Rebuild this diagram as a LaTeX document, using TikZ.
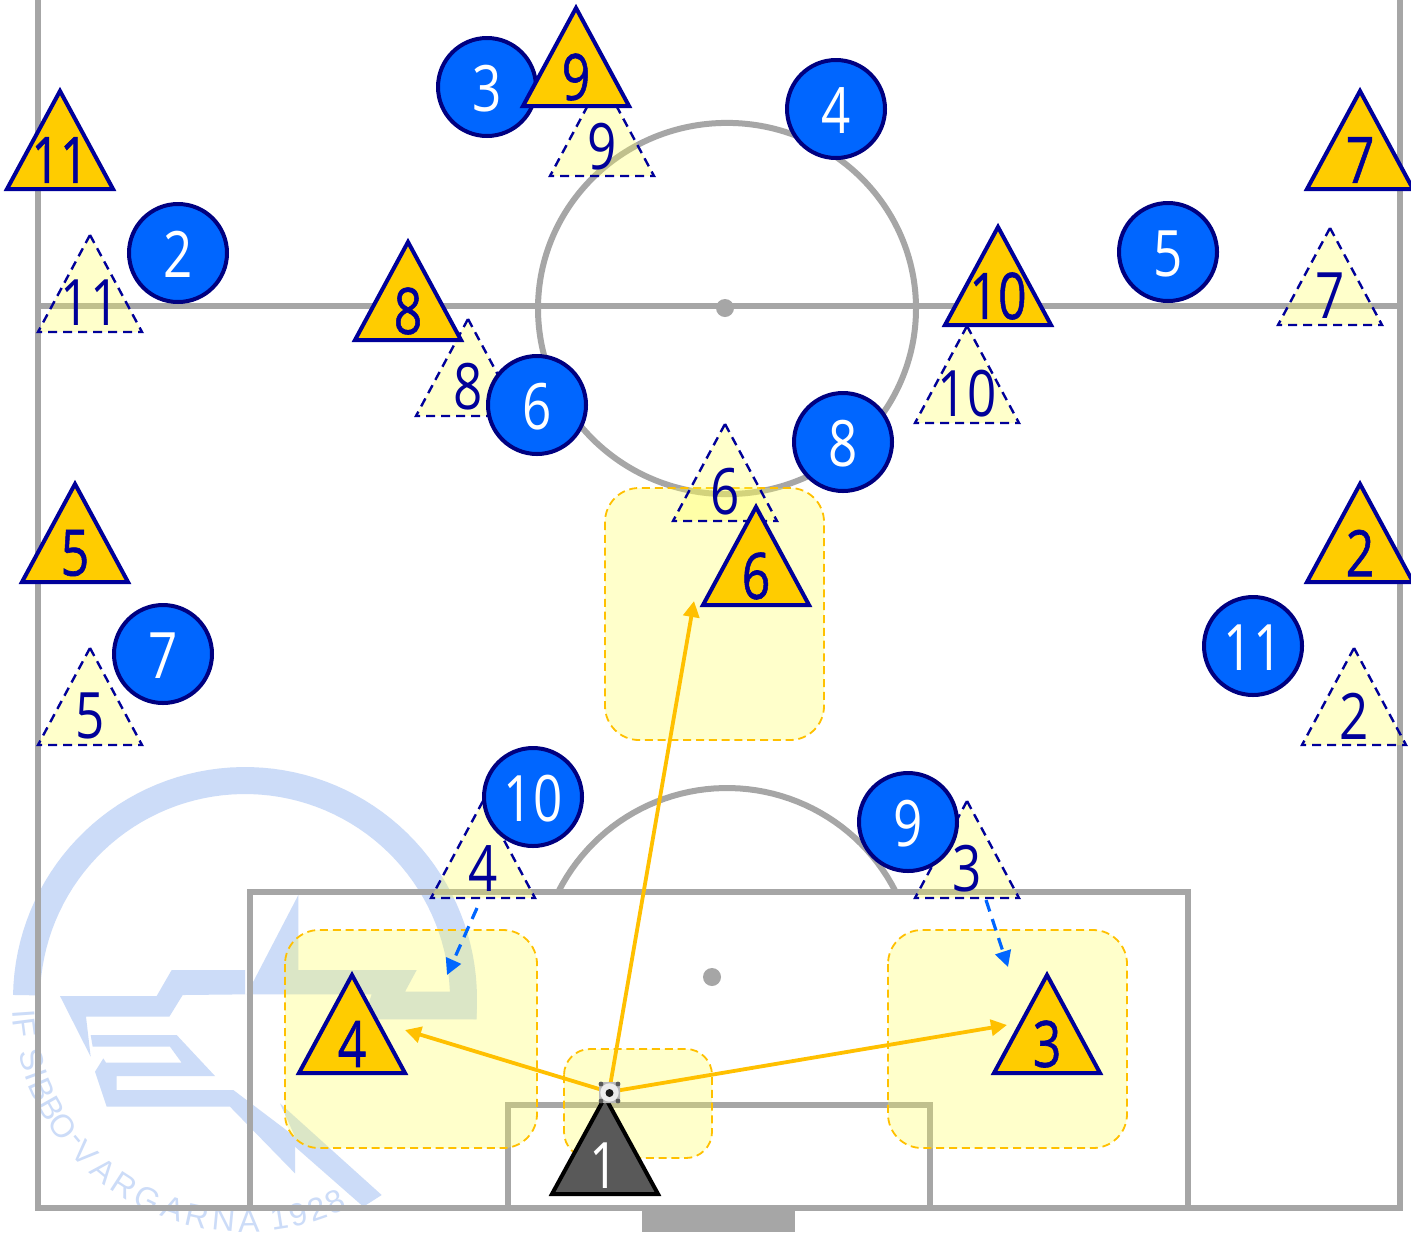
\documentclass[tikz,border=0pt]{standalone}
\usepackage{fontspec}
\setmainfont{Open Sans}
\newfontfamily\boldnum[FakeBold=1]{Open Sans}
\newfontfamily\wmfont{Liberation Sans}
\usetikzlibrary{arrows.meta}
\definecolor{pitch}{HTML}{A6A6A6}
\definecolor{navyline}{HTML}{000099}
\definecolor{gold}{HTML}{FFCC00}
\definecolor{amber}{HTML}{FFC000}
\definecolor{pale}{HTML}{FFFF55}
\definecolor{blue1}{HTML}{0066FF}
\definecolor{ringc}{HTML}{000080}
\definecolor{wm}{HTML}{CCDCF8}
\definecolor{keeper}{HTML}{595959}
\newcommand{\numtxt}[1]{\fontsize{32}{32}\selectfont\scalebox{.8}[1]{#1}}
\newcommand{\numbold}[1]{\fontsize{32}{32}\boldnum\scalebox{.78}[1]{#1}}
\tikzset{
  pitchline/.style={draw=pitch,line width=3pt},
  zone/.style={draw=amber,fill=pale,fill opacity=.3,line width=.9pt,dash pattern=on 4pt off 2.4pt,rounded corners=17pt},
  numlabel/.style={inner sep=0pt,anchor=center},
  ghosttri/.style={draw=navyline,fill=pale,fill opacity=.3,line width=1.2pt,dash pattern=on 4.5pt off 3pt,line join=miter},
  solidtri/.style={draw=navyline,fill=gold,line width=2pt,line join=miter},
  keepertri/.style={draw=black,fill=keeper,line width=2pt,line join=miter},
  player/.style={circle,draw=ringc,fill=blue1,line width=2pt,minimum size=49pt,inner sep=0pt,text=white},
  passarrow/.style={draw=amber,line width=1.9pt,-{Triangle[length=8pt,width=8pt]}},
  runarrow/.style={draw=blue1,line width=1.6pt,dash pattern=on 6pt off 4pt,-{Triangle[length=8pt,width=8pt]}},
  wmletter/.style={inner sep=0pt,text=wm,font=\fontsize{16}{16}\wmfont},
}
% name, apex x, apex y, label
\newcommand{\ghost}[4]{\path[ghosttri] (#2,#3) -- (#2+52,#3+97) -- (#2-52,#3+97) -- cycle;
  \node[numlabel,text=navyline] (#1) at (#2,#3+68) {\numtxt{#4}};}
\newcommand{\solid}[4]{\path[solidtri] (#2,#3) -- (#2+53,#3+98) -- (#2-53,#3+98) -- cycle;
  \node[numlabel,text=navyline] (#1) at (#2,#3+69) {\numbold{#4}};}
\newcommand{\plyr}[4]{\node[player] (#1) at (#2,#3) {};
  \node[numlabel,text=white] at (#2,#3+1.5) {\numtxt{#4}};}
\begin{document}
\begin{tikzpicture}[x=.5pt,y=-.5pt]
\useasboundingbox (0,0) rectangle (1411,1232);
\fill[white] (0,0) rectangle (1411,1232);
% watermark
\fill[wm] plot[domain=181:365,samples=70] ({245+232*cos(\x)},{999+232*sin(\x)})
  -- plot[domain=365:181,samples=70] ({245+205*cos(\x)},{999+205*sin(\x)}) -- cycle;
\begin{scope}[shift={(0,760)},x=.16667pt,y=-.16667pt]
\fill[wm] (895,405) -- (895,630) -- (1250,630) -- (1215,695) -- (1430,695) -- (1430,778) -- (1090,778) -- (1115,703) -- (740,703) -- cycle;
\fill[wm] (180,708) -- (470,708) -- (515,630) -- (735,630) -- (735,703) -- (548,705) -- (508,770) -- (258,770) -- (272,890) -- cycle;
\fill[wm] (272,825) -- (530,825) -- (645,948) -- (350,948) -- (350,990) -- (700,990) -- (885,1130) -- (885,1240) -- (690,1040) -- (320,1040) -- (285,935) -- (310,895) -- (318,908) -- (545,908) -- (510,860) -- (278,860) -- cycle;
\fill[wm] (840,1030) -- (1145,1305) -- (1090,1340) -- (885,1160) -- (885,1130) -- cycle;
\end{scope}
\foreach \c/\a in {I/176,F/172.5,S/164,I/160,B/156,B/150.5,O/145,-/140,V/136,A/129.5,R/123,G/116,A/109,R/102.5,N/95.5,A/89,1/81,9/76,2/71,8/66}
  \node[wmletter,rotate={90-\a}] at ({245+222*cos(\a)},{999+222*sin(\a)}) {\c};
% pitch
\draw[pitchline] (38,0) -- (38,1208) -- (1400,1208) -- (1400,0);
\draw[pitchline] (38,306) -- (1400,306);
\draw[pitchline] (727,308.5) ellipse[x radius=94.5pt,y radius=92.8pt];
\fill[pitch] (725,308) circle[radius=4.5pt];
\draw[pitchline] (250,1208) -- (250,892) -- (1188,892) -- (1188,1208);
\draw[pitchline] (508,1208) -- (508,1105) -- (930,1105) -- (930,1208);
\fill[pitch] (712,977) circle[radius=4.5pt];
\draw[pitchline] plot[domain=207:333,samples=50] ({727+189*cos(\x)},{977+189*sin(\x)});
\fill[pitch] (642,1209) rectangle (795,1232);
% zones
\path[zone] (605,488) rectangle (824,740);
\path[zone] (285,930) rectangle (537,1148);
\path[zone] (888,930) rectangle (1127,1148);
\path[zone,rounded corners=13pt] (564,1049) rectangle (712,1158);
% ghosts
\ghost{g9}{602}{79}{9}
\ghost{g11}{90}{235}{11}
\ghost{g8}{468}{319}{8}
\ghost{g10}{967}{326}{10}
\ghost{g7}{1330}{228}{7}
\ghost{g6}{725}{424}{6}
\ghost{g5}{90}{648}{5}
\ghost{g2}{1354}{648}{2}
\ghost{g4}{483}{801}{4}
\ghost{g3}{967}{801}{3}
% connector end points
\coordinate (ball) at (609,1092);
\coordinate (to6) at (694,601);
\coordinate (to4) at (405,1030);
\coordinate (to3) at (1007,1025);
\coordinate (run4a) at (477,908);
\coordinate (run4b) at (447,975);
\coordinate (run3a) at (986,900);
\coordinate (run3b) at (1008,967);
\draw[runarrow] (run4a) -- (run4b);
\draw[runarrow] (run3a) -- (run3b);
% opponents
\plyr{p3}{487}{87}{3}
\plyr{p4}{836}{109}{4}
\plyr{p2}{178}{253}{2}
\plyr{p5}{1168}{252}{5}
\plyr{p6}{537}{405}{6}
\plyr{p8}{843}{442}{8}
\plyr{p7}{163}{654}{7}
\plyr{p11}{1253}{646}{11}
\plyr{p10}{533}{797}{10}
\plyr{p9}{908}{822}{9}
% own team
\solid{s11}{60}{91}{11}
\solid{s9}{576}{8}{9}
\solid{s8}{408}{242}{8}
\solid{s10}{998}{227}{10}
\solid{s7}{1360}{91}{7}
\solid{s5}{75}{484}{5}
\solid{s2}{1360}{484}{2}
\solid{s6}{756}{507}{6}
\solid{s4}{352}{975}{4}
\solid{s3}{1047}{975}{3}
\path[keepertri] (605,1097) -- (658,1194) -- (552,1194) -- cycle;
\node[numlabel,text=white] (s1) at (604,1166) {\numtxt{1}};
% passes
\draw[passarrow] (ball) -- (to6);
\draw[passarrow] (ball) -- (to4);
\draw[passarrow] (ball) -- (to3);
% ball
\fill[gray!55,rounded corners=2pt] (599,1082) rectangle (620,1103);
\fill[white!85!gray] (609.5,1092.5) circle[radius=4.6pt];
\fill[black!90] (609.5,1093) circle[radius=2pt];
\fill[black!65] (601,1084) circle[radius=1.2pt] (618,1084) circle[radius=1.2pt] (601,1101) circle[radius=1.2pt] (618,1101) circle[radius=1.2pt];
\end{tikzpicture}
\end{document}
